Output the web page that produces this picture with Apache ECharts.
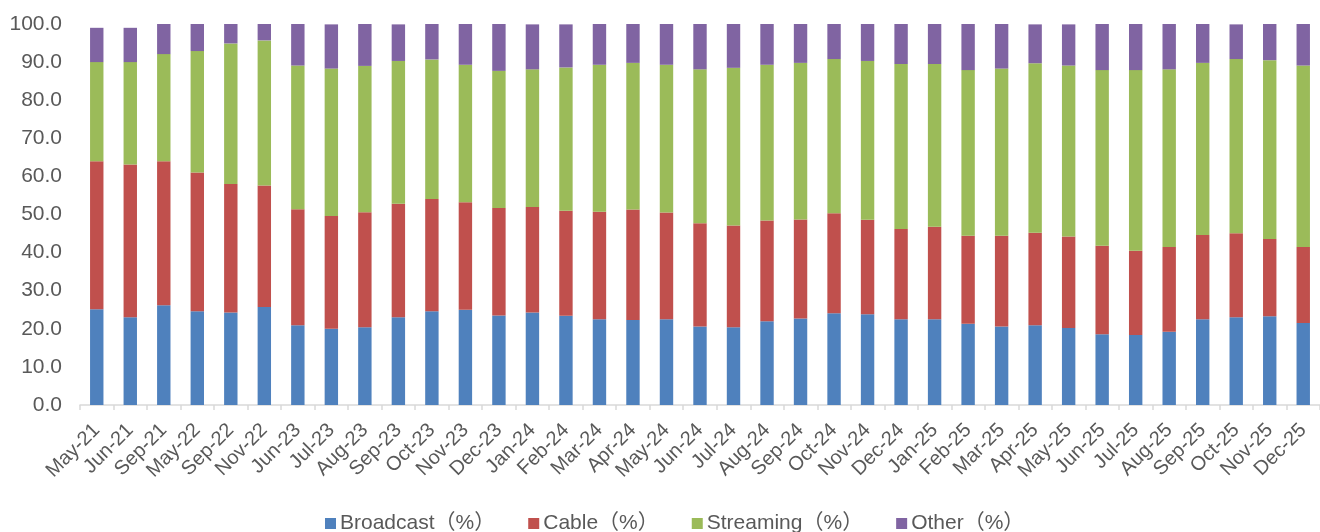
<!DOCTYPE html>
<html>
<head>
<meta charset="utf-8">
<script src="https://cdn.jsdelivr.net/npm/echarts@6/dist/echarts.min.js"></script>
<style>
  html, body { margin: 0; padding: 0; background: #fff; }
  #chart { width: 1320px; height: 532px; }
</style>
</head>
<body>
<div id="chart"></div>
<script>
// Monthly viewing share by platform, stacked to 100%
const months = ['May-21','Jun-21','Sep-21','May-22','Sep-22','Nov-22','Jun-23','Jul-23','Aug-23','Sep-23','Oct-23','Nov-23','Dec-23','Jan-24','Feb-24','Mar-24','Apr-24','May-24','Jun-24','Jul-24','Aug-24','Sep-24','Oct-24','Nov-24','Dec-24','Jan-25','Feb-25','Mar-25','Apr-25','May-25','Jun-25','Jul-25','Aug-25','Sep-25','Oct-25','Nov-25','Dec-25'];

const broadcast = [25.1,23.0,26.2,24.6,24.3,25.7,20.9,20.0,20.4,23.0,24.6,25.0,23.5,24.3,23.4,22.5,22.3,22.5,20.6,20.4,22.0,22.7,24.1,23.8,22.5,22.5,21.3,20.6,20.9,20.2,18.6,18.4,19.2,22.5,23.0,23.3,21.5];
const cable = [38.9,40.1,37.8,36.4,33.7,31.9,30.5,29.6,30.2,29.8,29.5,28.2,28.2,27.7,27.6,28.2,29.0,28.0,27.1,26.7,26.4,26.0,26.2,24.8,23.7,24.3,23.1,23.8,24.3,24.0,23.2,22.1,22.3,22.1,22.1,20.3,20.0];
const streaming = [26.0,26.9,28.1,31.9,36.9,38.1,37.7,38.7,38.4,37.5,36.6,36.1,36.0,36.1,37.6,38.6,38.5,38.8,40.4,41.4,40.9,41.1,40.5,41.7,43.3,42.7,43.5,43.9,44.5,44.9,46.1,47.4,46.6,45.2,45.7,46.9,47.6];
const other = [9.0,9.0,7.9,7.1,5.1,4.3,10.9,11.6,11.0,9.6,9.3,10.7,12.3,11.8,11.3,10.7,10.2,10.7,11.9,11.5,10.7,10.2,9.2,9.7,10.5,10.5,12.1,11.7,10.2,10.8,12.1,12.1,11.9,10.2,9.1,9.5,10.9];

const seriesNames = ['Broadcast（%）','Cable（%）','Streaming（%）','Other（%）'];
const seriesData = [broadcast, cable, streaming, other];
const palette = ['#4F81BD','#C0504D','#9BBB59','#8064A2'];

const FONT = '"Liberation Sans", Arial, "Noto Sans CJK SC", sans-serif';
const TEXT = '#595959';

const chart = echarts.init(document.getElementById('chart'), null, { renderer: 'canvas' });

chart.setOption({
  animation: false,
  color: palette,
  // plot runs slightly past the right edge of the canvas
  grid: { left: 80, width: 1247, top: 24, bottom: 127, containLabel: false },
  legend: {
    data: seriesNames,
    left: 320,
    top: 508,
    icon: 'rect',
    itemWidth: 11,
    itemHeight: 11,
    itemGap: 33,
    textStyle: { fontFamily: FONT, fontSize: 21, color: TEXT, padding: [0, 0, 0, -1] }
  },
  xAxis: {
    type: 'category',
    data: months,
    boundaryGap: true,
    axisLine: { show: true, lineStyle: { color: '#D9D9D9', width: 1.5 } },
    axisTick: { show: true, alignWithLabel: false, length: 5, lineStyle: { color: '#D9D9D9', width: 1.5 } },
    axisLabel: {
      interval: 0,
      rotate: 45,
      margin: 22,
      fontFamily: FONT,
      fontSize: 20,
      color: TEXT
    }
  },
  yAxis: {
    type: 'value',
    min: 0,
    max: 100,
    interval: 10,
    axisLine: { show: false },
    axisTick: { show: false },
    splitLine: { show: false },
    axisLabel: {
      margin: 18,
      fontFamily: FONT,
      fontSize: 21,
      color: TEXT,
      formatter: v => v.toFixed(1)
    }
  },
  series: seriesData.map((d, i) => ({
    name: seriesNames[i],
    type: 'bar',
    stack: 'share',
    barWidth: '40%',
    data: d,
    itemStyle: { color: palette[i] }
  }))
});
</script>
</body>
</html>
